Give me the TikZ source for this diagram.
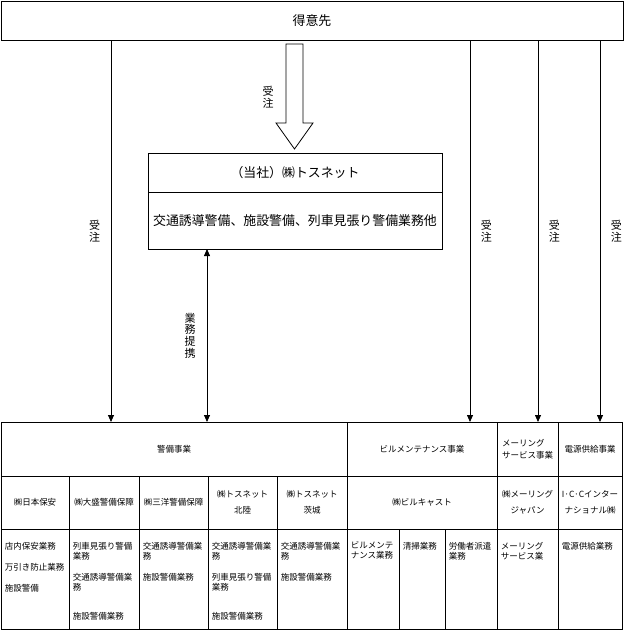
\documentclass[tikz,border=0pt]{standalone}
\usepackage{fontspec}
\setmainfont{Noto Sans CJK JP}
\usetikzlibrary{arrows.meta}
\tikzset{
  box/.style = {draw=black, rectangle, line width=1pt, inner sep=0pt,
    outer sep=0pt, text centered},
  big_txt/.style = {font=\fontsize{12.9}{16}\selectfont},% gros texte
  cell_hd/.style = {box, anchor=north west, minimum height=54pt,
    align=center, font=\fontsize{8.5}{12}\selectfont},% tableau, ligne des secteurs
  cell_co/.style = {box, anchor=north west, minimum height=53pt,
    align=center, font=\fontsize{8.5}{16}\selectfont},% tableau, ligne des societes
  cell_sv/.style = {box, anchor=north west, minimum height=100pt},% tableau, ligne des services
  sv_txt/.style = {anchor=north west, inner sep=0pt, xshift=3.5pt, yshift=-12.5pt,
    align=left, font=\fontsize{8.5}{10}\selectfont},% texte des services
  lbl_v/.style = {inner sep=0pt, align=center,
    font=\fontsize{11}{11.7}\selectfont}% etiquette verticale
}
\begin{document}
\begin{tikzpicture}[x=1pt,y=-1pt,>={Triangle[length=7pt,width=6pt]},line width=0.8pt]
  \useasboundingbox (0,0) rectangle (625,630);

  \node [box, big_txt, minimum width=622pt, minimum height=39pt, anchor=north west] (client) at (1,1) {得意先};
  \node [box, big_txt, minimum width=294pt, minimum height=39pt, anchor=north west] (tosnet) at (148,153) {（当社）㈱トスネット};
  \node [box, big_txt, minimum width=294pt, minimum height=57pt, anchor=north west] (tosnetwork) at (148,192) {交通誘導警備、施設警備、列車見張り警備業務他};

  % fleche creuse
  \draw (286,44) -- (286,123) -- (276,123) -- (294.5,149) -- (313,123) -- (303,123) -- (303,44) -- cycle;
  \node [lbl_v] (rcv) at (268,97) {受\\注};

  \node [cell_hd, minimum width=346pt] (h_sec) at (1,422) {警備事業};
  \node [cell_hd, minimum width=150pt] (h_bm) at (347,422) {ビルメンテナンス事業};
  \node [cell_hd, minimum width=61pt, align=left] (h_ml) at (497,422) {メーリング\\サービス事業};
  \node [cell_hd, minimum width=64pt] (h_pw) at (558,422) {電源供給事業};

  \node [cell_co, minimum width=68pt] (c1) at (1,476) {㈱日本保安};
  \node [cell_co, minimum width=70pt] (c2) at (69,476) {㈱大盛警備保障};
  \node [cell_co, minimum width=69pt] (c3) at (139,476) {㈱三洋警備保障};
  \node [cell_co, minimum width=69pt] (c4) at (208,476) {㈱トスネット\\北陸};
  \node [cell_co, minimum width=70pt] (c5) at (277,476) {㈱トスネット\\茨城};
  \node [cell_co, minimum width=150pt] (c6) at (347,476) {㈱ビルキャスト};
  \node [cell_co, minimum width=61pt] (c7) at (497,476) {㈱メーリング\\ジャパン};
  \node [cell_co, minimum width=64pt] (c8) at (558,476) {I·C·Cインター\\ナショナル㈱};

  \foreach \n/\x/\w in {s1/1/68,s2/69/70,s3/139/69,s4/208/69,s5/277/70,
      s6/347/52,s7/399/46,s8/445/52,s9/497/61,s10/558/64}
    \node [cell_sv, minimum width=\w pt] (\n) at (\x,529) {};

  \node [sv_txt] at (s1.north west) {店内保安業務\\[11pt]万引き防止業務\\[11pt]施設警備};
  \node [sv_txt] at (s2.north west) {列車見張り警備\\業務\\[11pt]交通誘導警備業\\務\\[19pt]施設警備業務};
  \node [sv_txt] at (s3.north west) {交通誘導警備業\\務\\[11pt]施設警備業務};
  \node [sv_txt] at (s4.north west) {交通誘導警備業\\務\\[11pt]列車見張り警備\\業務\\[19pt]施設警備業務};
  \node [sv_txt] at (s5.north west) {交通誘導警備業\\務\\[11pt]施設警備業務};
  \node [sv_txt] at (s6.north west) {ビルメンテ\\ナンス業務};
  \node [sv_txt] at (s7.north west) {清掃業務};
  \node [sv_txt] at (s8.north west) {労働者派遣\\業務};
  \node [sv_txt] at (s9.north west) {メーリング\\サービス業};
  \node [sv_txt] at (s10.north west) {電源供給業務};

  \foreach \x/\to/\side in {111/h_sec/left,470/h_bm/right,538/h_ml/right,600/h_pw/right} {
    \coordinate (o_\x) at (\x,0);
    \draw [->] (client.south -| o_\x) -- (\to.north -| o_\x)
      node [lbl_v, midway, \side=10.5pt] {受\\注};
  }
  \coordinate (o_al) at (207,0);
  \draw [<->] (tosnetwork.south -| o_al) -- (h_sec.north -| o_al)
    node [lbl_v, midway, left=11pt] {業\\務\\提\\携};
\end{tikzpicture}
\end{document}
